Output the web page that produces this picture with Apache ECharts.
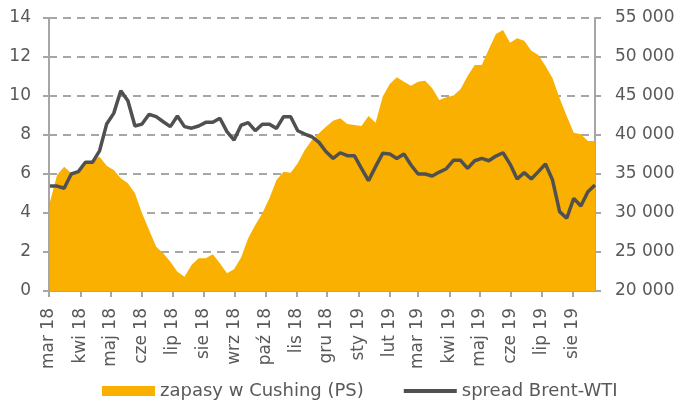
<!DOCTYPE html>
<html>
<head>
<meta charset="utf-8">
<script src="https://cdn.jsdelivr.net/npm/echarts@6/dist/echarts.min.js"></script>
<style>
html, body { margin: 0; padding: 0; background: #fff; }
#chart { width: 681px; height: 401px; }
</style>
</head>
<body>
<div id="chart"></div>
<script>
// tygodniowe dane od 2 marca 2018 do 23 sierpnia 2019
var startDay = '2018-03-01';
var endDay = '2019-08-23';
var firstWeek = 1; // indeks dnia pierwszego odczytu (2018-03-02)

var monthNames = ['sty', 'lut', 'mar', 'kwi', 'maj', 'cze', 'lip', 'sie', 'wrz', 'paź', 'lis', 'gru'];

var seriesNames = ['zapasy w Cushing (PS)', 'spread Brent-WTI'];

// zapasy w Cushing (tys. baryłek) - prawa skala
var stocks = [
    31450, 34870, 35940, 35090, 35510, 36370, 36790, 37220, 36060, 35510,
    34450, 33810, 32520, 29960, 27820, 25680, 24830, 23760, 22470, 21830,
    23330, 24190, 24190, 24700, 23550, 22270, 22780, 24300, 26760, 28460,
    29960, 31880, 34230, 35290, 35170, 36370, 38080, 39360, 40220, 41060,
    41830, 42140, 41410, 41280, 41150, 42440, 41580, 44910, 46540, 47400,
    46830, 46320, 46830, 46960, 45990, 44490, 44850, 45080, 45860, 47560,
    48970, 48970, 50990, 52950, 53460, 51830, 52390, 52090, 50810, 50260,
    48850, 47270, 44700, 42440, 40300, 40090, 39230, 39230
];

// spread Brent-WTI (USD/bbl) - lewa skala
var spread = [
    5.38, 5.38, 5.27, 6.00, 6.12, 6.60, 6.60, 7.19, 8.56, 9.11,
    10.27, 9.76, 8.46, 8.56, 9.06, 8.94, 8.68, 8.43, 8.97, 8.43,
    8.35, 8.46, 8.65, 8.65, 8.86, 8.17, 7.74, 8.50, 8.63, 8.22,
    8.55, 8.55, 8.34, 8.94, 8.94, 8.22, 8.05, 7.91, 7.62, 7.14,
    6.80, 7.09, 6.94, 6.94, 6.29, 5.66, 6.38, 7.06, 7.03, 6.80,
    7.03, 6.46, 6.00, 6.00, 5.90, 6.10, 6.27, 6.70, 6.70, 6.29,
    6.68, 6.80, 6.68, 6.92, 7.09, 6.51, 5.74, 6.07, 5.74, 6.12,
    6.51, 5.69, 4.07, 3.73, 4.75, 4.36, 5.09, 5.44
];

// lista dni dla osi X
var days = [];
var d0 = new Date(startDay + 'T00:00:00Z').getTime();
var d1 = new Date(endDay + 'T00:00:00Z').getTime();
for (var t = d0; t <= d1; t += 86400000) {
    days.push(new Date(t));
}

function monthStart(index) {
    return index === 0 || days[index].getUTCDate() === 1;
}

function weekly(values) {
    var res = [];
    for (var i = 0; i < values.length; i++) {
        res.push([firstWeek + i * 7, values[i]]);
    }
    return res;
}

var textColor = '#595959';
var axisColor = '#a6a6a6';
var lineColor = '#505050';
var areaColor = '#f9b000';
var fontName = 'DejaVu Sans';

var myChart = echarts.init(document.getElementById('chart'));

var option = {
    animation: false,
    textStyle: { fontFamily: fontName },
    grid: { left: 49, right: 86, top: 18, bottom: 110 },
    legend: {
        left: 97,
        top: 377,
        itemWidth: 53,
        itemHeight: 10,
        itemGap: 40,
        textStyle: { color: textColor, fontSize: 18, fontFamily: fontName },
        data: [
            { name: seriesNames[0], icon: 'rect' },
            // cienka linia jako ikona legendy
            { name: seriesNames[1], icon: 'path://M0,0 M53,10 M0,3 L53,3 L53,7 L0,7 Z', itemStyle: { color: lineColor } }
        ]
    },
    xAxis: {
        type: 'category',
        boundaryGap: false,
        data: days.map(function (d) { return d.toISOString().slice(0, 10); }),
        axisLine: { lineStyle: { color: axisColor, width: 2 } },
        axisTick: {
            interval: function (i) { return monthStart(i); },
            length: 6,
            lineStyle: { color: axisColor, width: 2 }
        },
        axisLabel: {
            interval: function (i) { return monthStart(i); },
            rotate: 90,
            margin: 17,
            color: textColor,
            fontSize: 17,
            fontFamily: fontName,
            formatter: function (v) {
                var d = new Date(v + 'T00:00:00Z');
                return monthNames[d.getUTCMonth()] + ' ' + String(d.getUTCFullYear()).slice(2);
            }
        },
        splitLine: { show: false }
    },
    yAxis: [
        {
            type: 'value',
            min: 0,
            max: 14,
            interval: 2,
            axisLine: { show: true, lineStyle: { color: axisColor, width: 2 } },
            axisTick: { show: true, length: 6, lineStyle: { color: axisColor, width: 2 } },
            axisLabel: { color: textColor, fontSize: 17, margin: 18, fontFamily: fontName },
            splitLine: { lineStyle: { color: axisColor, width: 2, type: [8, 6] } }
        },
        {
            type: 'value',
            min: 20000,
            max: 55000,
            interval: 5000,
            position: 'right',
            axisLine: { show: true, lineStyle: { color: axisColor, width: 2 } },
            axisTick: { show: true, length: 6, lineStyle: { color: axisColor, width: 2 } },
            axisLabel: {
                color: textColor,
                fontSize: 17,
                margin: 20,
                fontFamily: fontName,
                formatter: function (v) {
                    return String(v).replace(/\B(?=(\d{3})+(?!\d))/g, ' ');
                }
            },
            splitLine: { show: false }
        }
    ],
    series: [
        {
            name: seriesNames[0],
            type: 'line',
            yAxisIndex: 1,
            data: weekly(stocks),
            symbol: 'none',
            lineStyle: { width: 0 },
            itemStyle: { color: areaColor },
            areaStyle: { color: areaColor, opacity: 1, origin: 'start' },
            z: 1
        },
        {
            name: seriesNames[1],
            type: 'line',
            yAxisIndex: 0,
            data: weekly(spread),
            symbol: 'none',
            lineStyle: { width: 3.5, color: lineColor },
            itemStyle: { color: lineColor },
            z: 3
        }
    ]
};

myChart.setOption(option);
</script>
</body>
</html>
